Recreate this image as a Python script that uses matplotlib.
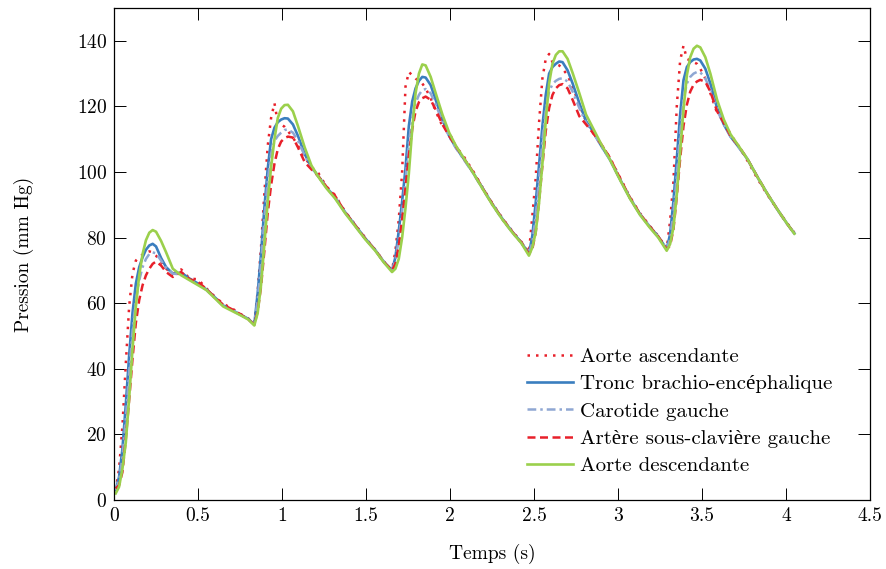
"""Pression dans l'aorte et ses branches au cours du temps."""

import matplotlib
matplotlib.use("Agg")
import matplotlib.pyplot as plt

plt.rcParams["font.family"] = ["cmr10", "Liberation Serif", "DejaVu Serif"]
plt.rcParams["mathtext.fontset"] = "cm"
plt.rcParams["axes.formatter.use_mathtext"] = True

# temps (s), grille commune aux cinq courbes (un rang par cycle cardiaque)
time = [
    0.01, 0.03, 0.05, 0.07, 0.09, 0.11, 0.13, 0.15, 0.17, 0.19, 0.21, 0.23, 0.25,
    0.28, 0.31, 0.35, 0.40, 0.45, 0.50, 0.55, 0.60, 0.65, 0.70, 0.75, 0.80,
    0.835, 0.855, 0.875, 0.895, 0.915, 0.935, 0.955, 0.975, 0.995, 1.015, 1.035, 1.065,
    1.095, 1.135, 1.175, 1.215, 1.265, 1.315, 1.375, 1.435, 1.495, 1.555, 1.605,
    1.655, 1.675, 1.695, 1.715, 1.735, 1.755, 1.775, 1.795, 1.815, 1.835, 1.855, 1.885,
    1.915, 1.955, 1.995, 2.035, 2.085, 2.135, 2.195, 2.255, 2.315, 2.375, 2.425,
    2.47, 2.49, 2.51, 2.53, 2.55, 2.57, 2.59, 2.61, 2.63, 2.65, 2.67, 2.70,
    2.73, 2.77, 2.81, 2.85, 2.90, 2.95, 3.01, 3.07, 3.13, 3.19, 3.24,
    3.29, 3.31, 3.33, 3.35, 3.37, 3.39, 3.41, 3.43, 3.45, 3.47, 3.49, 3.52,
    3.55, 3.59, 3.63, 3.67, 3.72, 3.77, 3.83, 3.89, 3.95, 4.01, 4.05,
]

aorte_asc = [
    3, 9.5, 22.5, 41.5, 59, 69, 73, 74, 74.8, 75.5, 75.8, 75.5, 74.5,
    72.5, 70.5, 69, 70.3, 67.5, 67.3, 64.5, 62, 59.8, 58.5, 56.8, 55.3,
    54, 63.5, 77, 93.5, 108, 116.5, 121, 115, 114.5, 113.8, 112.5, 110.5,
    108, 104.5, 101.5, 99.8, 95.5, 93, 88, 84, 80, 76.3, 72.8,
    70, 76, 85.5, 100, 126, 130.5, 129.5, 128.5, 127.8, 127, 125.5, 122.5,
    118.5, 114, 112, 107.8, 104.5, 100.5, 95.2, 90.2, 85.7, 81.7, 78.7,
    75.5, 86.5, 98, 115, 128.5, 134.5, 136, 133.5, 133, 132.5, 131.5, 129.5,
    126, 120.5, 115.5, 112, 108.5, 104.5, 98.5, 92.5, 87.5, 83.5, 80.5,
    76.5, 85, 97, 120, 134, 138.5, 134.5, 134, 133.5, 133, 131.5, 128.5,
    124, 118, 115.5, 111.5, 107.8, 103.5, 98, 93, 88.5, 84.2, 81.5,
]

tronc_bc = [
    3, 7, 15.5, 29, 44, 57, 66, 71, 74, 76.3, 77.6, 78.1, 77.3,
    73.8, 71, 69, 69.3, 67.5, 66, 64.2, 61.8, 59.3, 58, 56.6, 55.2,
    53.5, 63, 75, 89, 101, 110, 113.5, 115.2, 116, 116.4, 116.3, 114.5,
    111, 105.5, 101.5, 98.8, 95.3, 92.3, 87.8, 83.8, 79.8, 76.2, 72.7,
    70, 74, 82, 91, 101, 114, 121.5, 125.5, 127.8, 129, 128.8, 126.5,
    122, 116, 111, 107.5, 103.8, 100, 95, 90, 85.5, 81.5, 78.5,
    75, 80.5, 90.5, 102, 114, 123.5, 130, 132, 133, 133.7, 133.5, 131,
    127, 121, 115.5, 112.5, 108, 104, 98, 92.2, 87.2, 83.3, 80.3,
    76.5, 81, 91, 104, 117.5, 128, 132, 133.5, 134.3, 134.5, 134, 131.5,
    127, 119.5, 114.5, 110.8, 107.5, 104, 98.5, 93.3, 88.5, 84, 81.3,
]

carotide_g = [
    3, 6, 13, 25, 39, 51.5, 61, 67, 71, 73.5, 75, 75.5, 75.2,
    73, 70.8, 69, 68.8, 67.2, 65.8, 64, 61.6, 59.2, 57.9, 56.5, 55.1,
    53.5, 61, 72, 85.5, 97.5, 105.5, 109.5, 111, 112, 112.8, 113, 112,
    109.5, 105, 101.3, 98.7, 95.2, 92.2, 87.6, 83.6, 79.6, 76.1, 72.6,
    70, 73, 79.5, 88, 97.5, 108.5, 116.5, 121, 123.5, 125, 125.3, 124,
    120.5, 115.5, 110.8, 107.3, 103.6, 99.8, 94.8, 89.8, 85.3, 81.3, 78.4,
    75, 78.5, 86.5, 97.5, 109.5, 119, 124.5, 126.8, 127.8, 128.4, 128.6, 127.6,
    124.5, 119.5, 115, 112.2, 107.9, 103.9, 97.9, 92.1, 87.1, 83.2, 80.2,
    76.5, 79.5, 87.5, 99, 112, 122, 127, 129, 130, 130.5, 130.4, 128.5,
    125, 119, 114.5, 110.8, 107.4, 103.9, 98.4, 93.2, 88.4, 83.9, 81.2,
]

sous_clav_g = [
    3.5, 4.5, 8.5, 18.5, 30.5, 43, 54, 61, 65.5, 68.5, 70.5, 72, 72.7,
    71.5, 69.5, 68, 69.5, 67.3, 66.5, 64.3, 61.8, 59.5, 58.2, 56.7, 55,
    53.5, 57.5, 65, 76, 87.5, 96, 102.5, 107, 109.3, 110.3, 110.8, 110.5,
    107.5, 103, 100.8, 98.8, 95.5, 92.8, 87.8, 83.8, 79.7, 76.2, 72.6,
    70, 72, 77.5, 85.5, 95, 105, 113, 118.5, 121.3, 122.5, 123, 122,
    119, 114.5, 111, 107.8, 104, 100.2, 95, 90, 85.5, 81.5, 78.5,
    75, 76.5, 81.5, 91, 102, 112.5, 119.5, 123.5, 125.5, 126.5, 126.8, 125.5,
    122, 117, 114.5, 112, 108.5, 104.5, 98.3, 92.3, 87.3, 83.3, 80.3,
    76.5, 77.5, 82.5, 92.5, 104, 114, 120.5, 124.5, 126.6, 127.6, 128.1, 127.5,
    124.5, 118.5, 115, 111, 107.8, 104, 98.5, 93.3, 88.5, 84, 81.3,
]

aorte_desc = [
    2, 4, 9.5, 17.5, 31, 46, 59, 68.5, 75, 79.2, 81.5, 82.3, 81.8,
    79, 75.5, 70.5, 68.5, 67, 65.5, 64, 61.5, 59, 57.7, 56.4, 55,
    53.2, 57, 65.5, 78, 91, 101.5, 110, 116.5, 119.3, 120.4, 120.5, 118.5,
    114, 107.5, 102, 98.6, 95, 92, 87.5, 83.5, 79.5, 76, 72.5,
    69.5, 70.5, 73.5, 80, 89, 99.5, 113, 124, 130, 132.8, 132.5, 129,
    124, 117.5, 112, 108, 104, 100, 94.8, 89.8, 85.3, 81.3, 78.3,
    74.5, 77, 81.5, 90.5, 102.5, 115.5, 127, 133, 135.7, 136.8, 136.8, 134.5,
    130.2, 124, 117.5, 113.5, 108.5, 104, 97.8, 92, 87, 83, 80,
    76, 78, 83, 93, 106, 119, 129.5, 135, 137.6, 138.5, 138, 135,
    130, 122, 116, 111.5, 107.8, 104, 98.5, 93.3, 88.5, 84, 81.2,
]

labels = [
    "Aorte ascendante",
    "Tronc brachio-encéphalique",
    "Carotide gauche",
    "Artère sous-clavière gauche",
    "Aorte descendante",
]
xticks = [0, 0.5, 1, 1.5, 2, 2.5, 3, 3.5, 4, 4.5]
xticklabels = ["0", "0.5", "1", "1.5", "2", "2.5", "3", "3.5", "4", "4.5"]
yticks = [0, 20, 40, 60, 80, 100, 120, 140]

fig = plt.figure(figsize=(8.86, 5.69), dpi=100)
ax = fig.add_axes([0.1287, 0.1213, 0.8532, 0.8646])

red = "#e8202a"
ax.plot(time, aorte_asc, color=red, lw=1.8, ls=(0, (1, 2.4)), label=labels[0])
ax.plot(time, tronc_bc, color="#3a7ebf", lw=1.9, label=labels[1])
ax.plot(time, carotide_g, color="#8fa7d3", lw=1.8, ls=(0, (3.5, 1.6, 1, 1.6)), label=labels[2])
ax.plot(time, sous_clav_g, color=red, lw=1.8, ls=(0, (3.2, 1.8)), label=labels[3])
ax.plot(time, aorte_desc, color="#9bd04c", lw=1.9, label=labels[4])

ax.set_xlim(0, 4.5)
ax.set_ylim(0, 150)
ax.set_xticks(xticks)
ax.set_xticklabels(xticklabels)
ax.set_yticks(yticks)
ax.tick_params(direction="in", top=True, right=True, length=8.5, width=0.7,
               labelsize=14, pad=5)
for sp in ax.spines.values():
    sp.set_linewidth(0.9)

ax.set_xlabel("Temps (s)", fontsize=14, labelpad=14)
ax.set_ylabel("Pression (mm Hg)", fontsize=14, labelpad=31)

ax.legend(loc="lower left", bbox_to_anchor=(0.5463, 0.05), frameon=False,
          fontsize=15, handlelength=2.2, handletextpad=0.34, labelspacing=0.42,
          borderpad=0, borderaxespad=0)

fig.savefig("out.png", dpi=100)
plt.close(fig)
